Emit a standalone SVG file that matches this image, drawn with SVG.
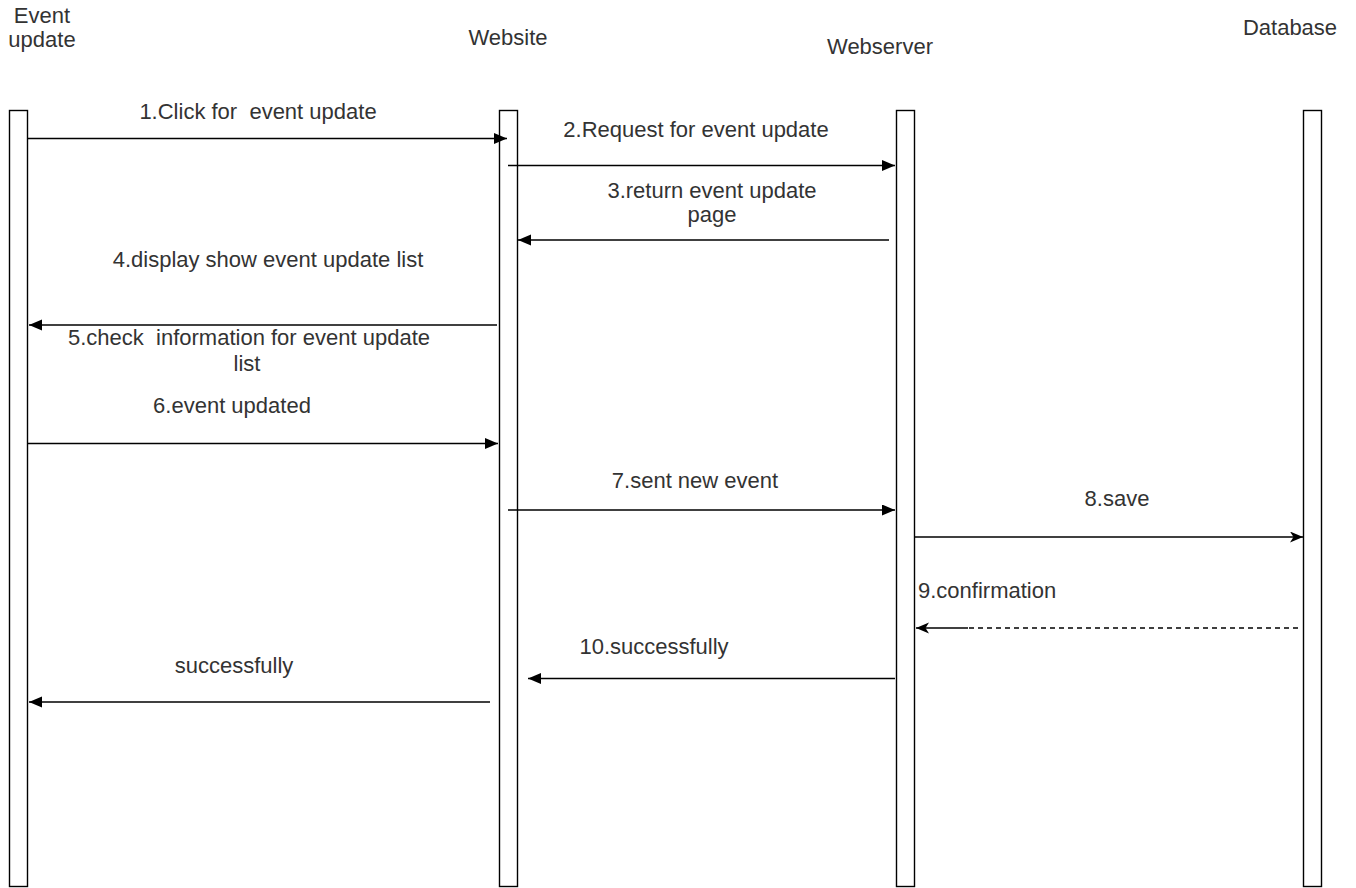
<svg xmlns="http://www.w3.org/2000/svg" width="1356" height="888" viewBox="0 0 1356 888">
  <defs>
    <style>
      .lbl { font-family: "Liberation Sans", Arial, sans-serif; font-size: 22px; fill: #333333; white-space: pre; }
      .mid { text-anchor: middle; }
      .life { fill: #ffffff; stroke: #000000; stroke-width: 1.4; }
      .msg { fill: none; stroke: #000000; stroke-width: 1.5; }
      .dash { stroke-dasharray: 5 4; }
    </style>
    <marker id="block" markerUnits="userSpaceOnUse" markerWidth="14" markerHeight="12" refX="13" refY="5.5" orient="auto">
      <path d="M0,0 L13,5.5 L0,11 Z" fill="#000000"/>
    </marker>
    <marker id="classic" markerUnits="userSpaceOnUse" markerWidth="14" markerHeight="12" refX="13" refY="5.5" orient="auto">
      <path d="M0,0 L13,5.5 L0,11 L3.5,5.5 Z" fill="#000000"/>
    </marker>
  </defs>

  <rect width="1356" height="888" fill="#ffffff"/>

  <!-- participants: header text + activation bar -->
  <g id="event-update">
    <text class="lbl mid" x="42" y="23">Event</text>
    <text class="lbl mid" x="42" y="47">update</text>
    <rect class="life" x="9.5" y="110.5" width="18" height="776"/>
  </g>
  <g id="website">
    <text class="lbl mid" x="508" y="45">Website</text>
    <rect class="life" x="499.5" y="110.5" width="18" height="776"/>
  </g>
  <g id="webserver">
    <text class="lbl mid" x="880" y="54">Webserver</text>
    <rect class="life" x="896.5" y="110.5" width="18" height="776"/>
  </g>
  <g id="database">
    <text class="lbl mid" x="1290" y="35">Database</text>
    <rect class="life" x="1303.5" y="110.5" width="18" height="776"/>
  </g>

  <!-- messages -->
  <g id="connectors">
    <line class="msg" x1="28" y1="138.5" x2="507" y2="138.5" marker-end="url(#block)"/>
    <line class="msg" x1="508" y1="165.5" x2="895" y2="165.5" marker-end="url(#block)"/>
    <line class="msg" x1="889" y1="240" x2="518" y2="240" marker-end="url(#block)"/>
    <line class="msg" x1="497" y1="325" x2="29" y2="325" marker-end="url(#block)"/>
    <line class="msg" x1="28" y1="443.5" x2="498" y2="443.5" marker-end="url(#block)"/>
    <line class="msg" x1="508" y1="510" x2="895" y2="510" marker-end="url(#block)"/>
    <line class="msg" x1="915" y1="537" x2="1303" y2="537" marker-end="url(#classic)"/>
    <line class="msg dash" x1="1298" y1="628" x2="968" y2="628"/>
    <line class="msg" x1="968" y1="628" x2="916" y2="628" marker-end="url(#classic)"/>
    <line class="msg" x1="895" y1="678.5" x2="528" y2="678.5" marker-end="url(#block)"/>
    <line class="msg" x1="490" y1="702" x2="29" y2="702" marker-end="url(#block)"/>
  </g>

  <!-- message labels -->
  <g id="labels">
    <text class="lbl mid" x="258" y="119" xml:space="preserve">1.Click for  event update</text>
    <text class="lbl mid" x="696" y="137">2.Request for event update</text>
    <text class="lbl mid" x="712" y="198">3.return event update</text>
    <text class="lbl mid" x="712" y="222">page</text>
    <text class="lbl mid" x="268" y="267">4.display show event update list</text>
    <text class="lbl mid" x="249" y="345" xml:space="preserve">5.check  information for event update</text>
    <text class="lbl mid" x="247" y="371">list</text>
    <text class="lbl mid" x="232" y="413">6.event updated</text>
    <text class="lbl mid" x="695" y="488">7.sent new event</text>
    <text class="lbl mid" x="1117" y="506">8.save</text>
    <text class="lbl" x="918" y="598">9.confirmation</text>
    <text class="lbl mid" x="654" y="654">10.successfully</text>
    <text class="lbl mid" x="234" y="673">successfully</text>
  </g>
</svg>
